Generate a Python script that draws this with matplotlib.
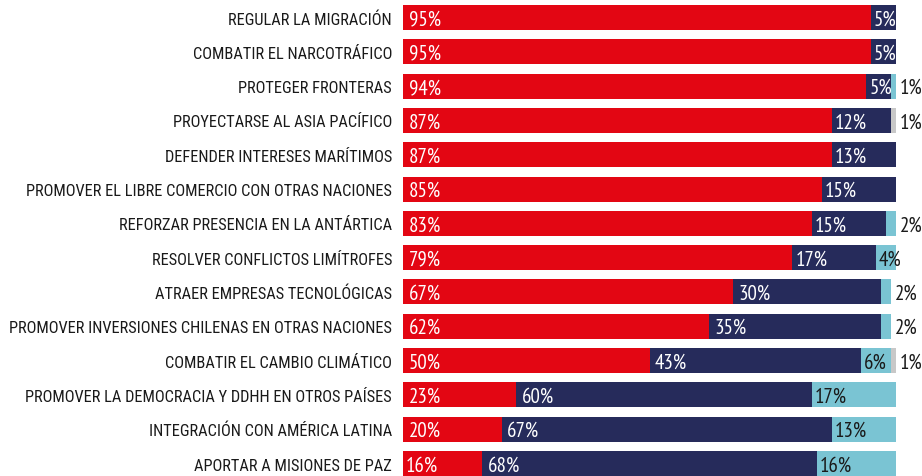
import numpy as np
import matplotlib
matplotlib.use("Agg")
from matplotlib import pyplot as plt

categorias = [
    "REGULAR LA MIGRACIÓN",
    "COMBATIR EL NARCOTRÁFICO",
    "PROTEGER FRONTERAS",
    "PROYECTARSE AL ASIA PACÍFICO",
    "DEFENDER INTERESES MARÍTIMOS",
    "PROMOVER EL LIBRE COMERCIO CON OTRAS NACIONES",
    "REFORZAR PRESENCIA EN LA ANTÁRTICA",
    "RESOLVER CONFLICTOS LIMÍTROFES",
    "ATRAER EMPRESAS TECNOLÓGICAS",
    "PROMOVER INVERSIONES CHILENAS EN OTRAS NACIONES",
    "COMBATIR EL CAMBIO CLIMÁTICO",
    "PROMOVER LA DEMOCRACIA Y DDHH EN OTROS PAÍSES",
    "INTEGRACIÓN CON AMÉRICA LATINA",
    "APORTAR A MISIONES DE PAZ",
]
si = [95, 95, 94, 87, 87, 85, 83, 79, 67, 62, 50, 23, 20, 16]
no = [5, 5, 5, 12, 13, 15, 15, 17, 30, 35, 43, 60, 67, 68]
ns = [0, 0, 1, 0, 0, 0, 2, 4, 2, 2, 6, 17, 13, 16]
nr = [0, 0, 0, 1, 0, 0, 0, 0, 0, 0, 1, 0, 0, 0]

series = [si, no, ns, nr]
colores = ["#E30613", "#262B5B", "#7AC4D3", "#C8C8C8"]
color_txt = ["white", "white", "#1a1a1a", "#1a1a1a"]

fuente_cat = ["Roboto Condensed", "DejaVu Sans"]
fuente_num = ["PT Sans Narrow", "DejaVu Sans"]

fig = plt.figure(figsize=(9.22, 4.77), dpi=100)
ax = fig.add_axes([403 / 922, 0, (896 - 403) / 922, 1])

y = np.arange(len(categorias))
left = np.zeros(len(categorias))
for k, vals in enumerate(series):
    vals = np.array(vals, dtype=float)
    ax.barh(y, vals, left=left, height=0.73, color=colores[k], linewidth=0)
    for i, v in enumerate(vals):
        if v <= 0:
            continue
        total = sum(s[i] for s in series)
        if v <= 2:
            # small tail value goes outside the bar
            ax.annotate(f"{int(v)}%", (total, i), xytext=(3, -1), textcoords="offset points",
                        ha="left", va="center", color="#1a1a1a", fontsize=15, family=fuente_num)
        else:
            pad = 2 if v < 20 else 4
            ax.annotate(f"{int(v)}%", (left[i], i), xytext=(pad, -1), textcoords="offset points",
                        ha="left", va="center", color=color_txt[k], fontsize=15, family=fuente_num)
    left += vals

ax.set_xlim(0, 100)
ax.set_ylim(13.364, -0.539)
ax.set_yticks(y)
ax.set_yticklabels(categorias, fontsize=11.8, family=fuente_cat, color="#1a1a1a")
ax.tick_params(axis="y", length=0, pad=8)
ax.set_xticks([])
for s in ax.spines.values():
    s.set_visible(False)

fig.savefig("out.png", dpi=100)
